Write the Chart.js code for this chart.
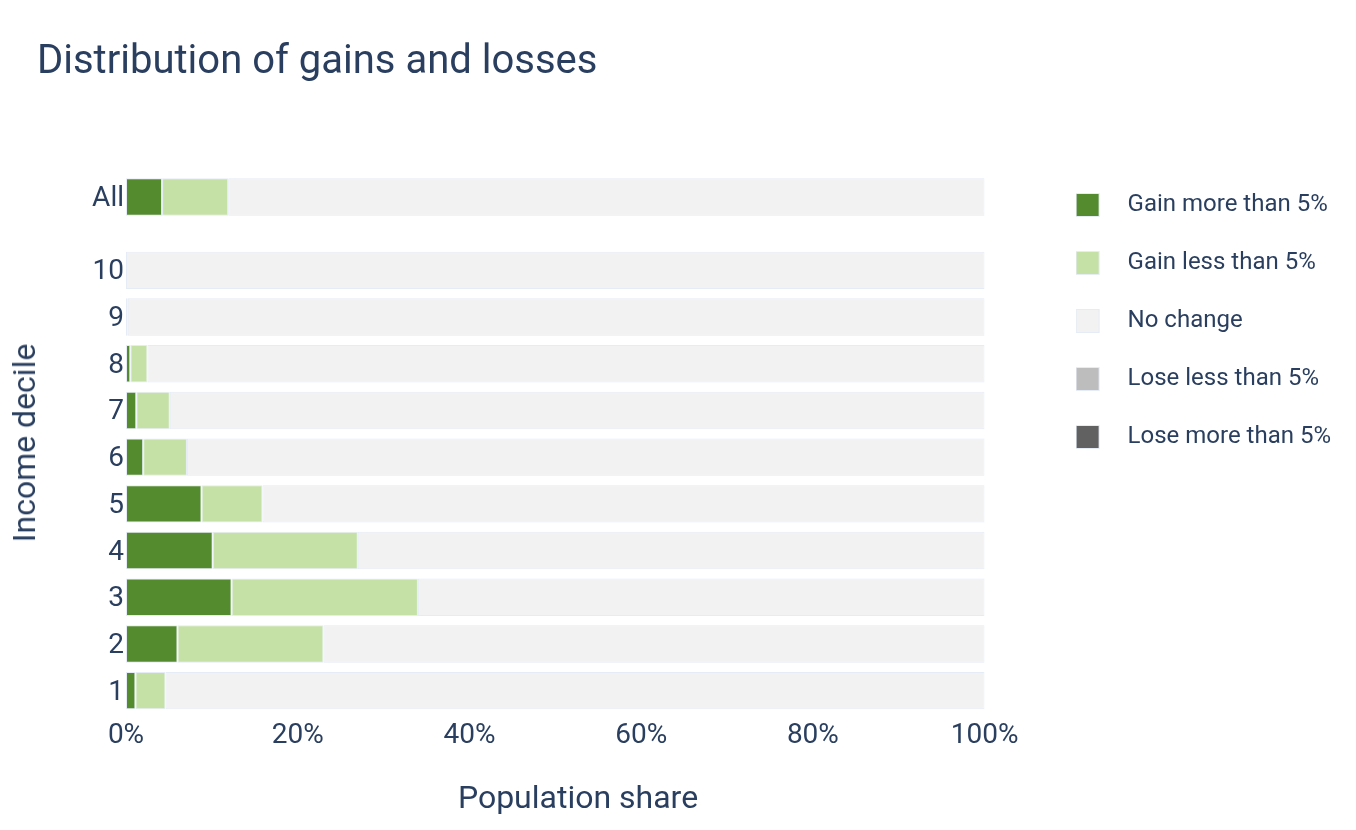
<!DOCTYPE html>
<html>
<head>
<meta charset="utf-8">
<title>Distribution of gains and losses</title>
<script src="https://cdn.jsdelivr.net/npm/chart.js@4.4.0/dist/chart.umd.min.js"></script>
<style>
  html, body { margin: 0; padding: 0; background: #fff; }
  #wrap { position: relative; width: 1356px; height: 830px; }
  .axis-title {
    position: absolute;
    font: 32px Roboto, sans-serif; color: #2a3f5f; white-space: nowrap;
  }
  #yTitle { left: 24px; top: 443px; transform: translate(-50%, -50%) rotate(-90deg); }
  #xTitle { left: 578px; top: 797px; transform: translate(-50%, -50%); }
</style>
</head>
<body>
<div id="wrap">
  <canvas id="chart"></canvas>
  <div id="yTitle" class="axis-title">Income decile</div>
  <div id="xTitle" class="axis-title">Population share</div>
</div>
<script>
// Categories
const deciles = ['1', '2', '3', '4', '5', '6', '7', '8', '9', '10'];
const allLabel = ['All'];
const seriesNames = ['Gain more than 5%', 'Gain less than 5%', 'No change', 'Lose less than 5%', 'Lose more than 5%'];
const seriesColors = ['#558B2F', '#C5E1A5', '#F2F2F2', '#BDBDBD', '#616161'];

// Shares of population (%), deciles 1..10
const gainMore = [1.1, 6.0, 12.3, 10.1, 8.8, 2.0, 1.2, 0.5, 0.0, 0.0];
const gainLess = [3.5, 17.0, 21.7, 16.9, 7.1, 5.1, 3.9, 2.0, 0.2, 0.0];
const noChange = [95.4, 77.0, 66.0, 73.0, 84.1, 92.9, 94.9, 97.5, 99.8, 100.0];
const loseLess = [0, 0, 0, 0, 0, 0, 0, 0, 0, 0];
const loseMore = [0, 0, 0, 0, 0, 0, 0, 0, 0, 0];

// Whole population
const gainMoreAll = [4.2];
const gainLessAll = [7.7];
const noChangeAll = [88.1];
const loseLessAll = [0];
const loseMoreAll = [0];

// x axis ticks
const xTicks = [0, 20, 40, 60, 80, 100];

const textColor = '#2a3f5f';
const edgeColor = '#E5ECF6';
Chart.defaults.font.family = 'Roboto';
Chart.defaults.color = textColor;

const decileSeries = [gainMore, gainLess, noChange, loseLess, loseMore];
const allSeries = [gainMoreAll, gainLessAll, noChangeAll, loseLessAll, loseMoreAll];

// legend swatch: square on the left, blank space to the right
function swatch(color) {
  const c = document.createElement('canvas');
  c.width = 40; c.height = 24;
  const g = c.getContext('2d');
  g.fillStyle = color;
  g.fillRect(0, 0, 24, 24);
  g.strokeStyle = edgeColor;
  g.lineWidth = 1;
  g.strokeRect(0.5, 0.5, 23, 23);
  return c;
}

const datasets = [];
seriesNames.forEach((name, i) => {
  datasets.push({
    label: name,
    data: decileSeries[i],
    backgroundColor: seriesColors[i],
    borderColor: edgeColor,
    borderWidth: 1,
    borderSkipped: false,
    grouped: false,
    barPercentage: 0.8,
    categoryPercentage: 1,
    xAxisID: 'x',
    yAxisID: 'yDec'
  });
});
seriesNames.forEach((name, i) => {
  datasets.push({
    label: name,
    data: allSeries[i],
    backgroundColor: seriesColors[i],
    borderColor: edgeColor,
    borderWidth: 1,
    borderSkipped: false,
    grouped: false,
    barPercentage: 0.374,
    categoryPercentage: 1,
    xAxisID: 'x',
    yAxisID: 'yAll'
  });
});

const yCommon = {
  type: 'category',
  position: 'left',
  stack: 'rows',
  stacked: true,
  offset: true,
  grid: { display: false, drawTicks: false },
  border: { display: false },
  ticks: { font: { size: 28 }, padding: 2, labelOffset: 2, color: textColor, autoSkip: false },
  afterFit: s => { s.width = 89; }
};

new Chart(document.getElementById('chart'), {
  type: 'bar',
  data: { datasets: datasets },
  options: {
    indexAxis: 'y',
    responsive: true,
    maintainAspectRatio: false,
    animation: false,
    layout: { padding: { top: 0, left: 37, right: 15, bottom: 0 } },
    scales: {
      x: {
        type: 'linear',
        position: 'bottom',
        stacked: true,
        min: 0,
        max: 100,
        afterBuildTicks: s => { s.ticks = xTicks.map(v => ({ value: v })); },
        ticks: {
          callback: v => v + '%',
          font: { size: 28 },
          padding: 5,
          maxRotation: 0,
          color: textColor
        },
        grid: { display: false, drawTicks: false },
        border: { display: false },
        afterFit: s => { s.height = 116; }
      },
      // stacked on the left: decile block below the "All" row
      yDec: Object.assign({}, yCommon, { labels: deciles, reverse: true, stackWeight: 467 }),
      yAll: Object.assign({}, yCommon, { labels: allLabel, stackWeight: 100 }),
      gap: {
        type: 'linear',
        axis: 'y',
        position: 'right',
        grid: { display: false, drawTicks: false },
        border: { display: false },
        ticks: { display: false },
        afterFit: s => { s.width = 57; }
      }
    },
    plugins: {
      title: {
        display: true,
        text: 'Distribution of gains and losses',
        align: 'start',
        font: { size: 40, weight: 'normal' },
        color: textColor,
        padding: { top: 39, bottom: 60 }
      },
      legend: {
        position: 'right',
        align: 'start',
        fullSize: false,
        maxWidth: 400,
        title: { display: true, text: '', font: { size: 12, lineHeight: 1 }, padding: 0 },
        labels: {
          usePointStyle: true,
          pointStyleWidth: 40,
          font: { size: 24 },
          color: textColor,
          padding: 34,
          generateLabels: chart => {
            const items = Chart.defaults.plugins.legend.labels.generateLabels(chart);
            return items
              .filter(it => it.datasetIndex < seriesNames.length)
              .map(it => Object.assign(it, { pointStyle: swatch(seriesColors[it.datasetIndex]) }));
          }
        }
      },
      tooltip: { enabled: true }
    }
  }
});
</script>
</body>
</html>
